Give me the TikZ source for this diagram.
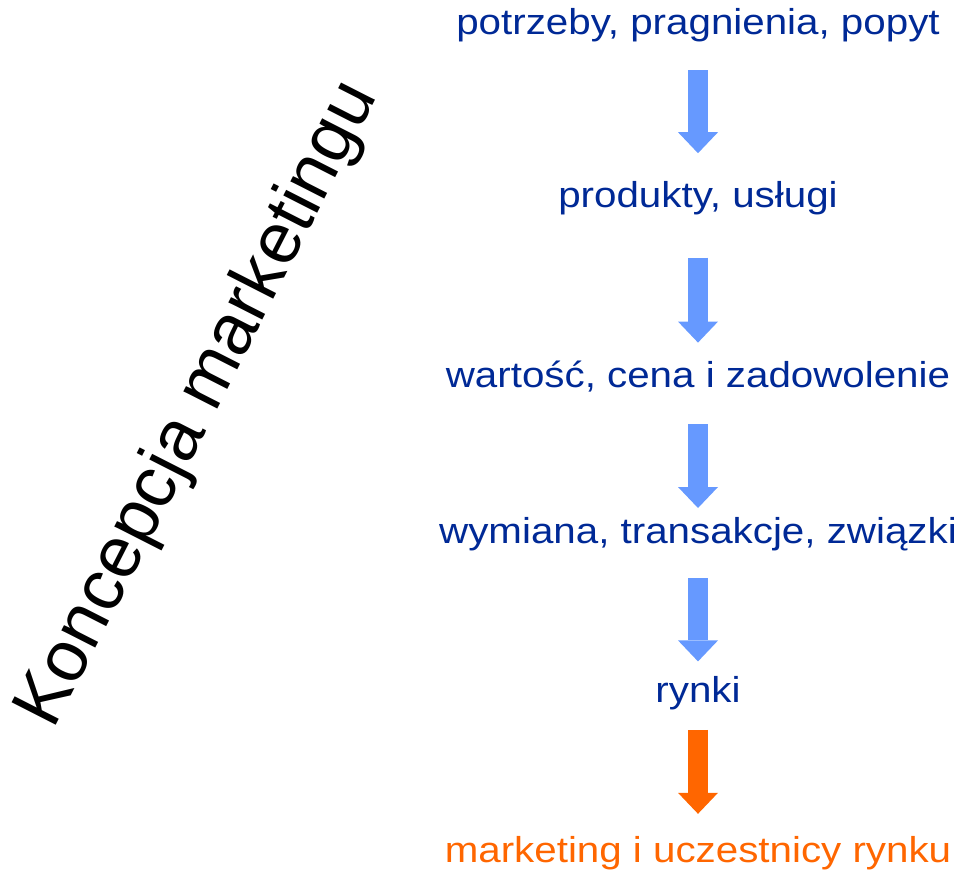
\documentclass[tikz,border=0pt]{standalone}
\usepackage{fontspec}
\setmainfont{Liberation Sans}
\newfontfamily\widesans[FakeStretch=1.12]{Liberation Sans}
\usepackage{tikz}
\usetikzlibrary{arrows.meta,positioning}
\definecolor{navyblue}{RGB}{0,41,150}
\definecolor{arrowblue}{RGB}{102,153,255}
\definecolor{mktorange}{RGB}{255,102,0}

\begin{document}
\begin{tikzpicture}[x=1pt, y=1pt, node distance=120pt]
  \tikzstyle{stage} = [font=\widesans\fontsize{36}{43}\selectfont, text=navyblue, inner sep=0pt, text height=26pt, text depth=8pt]
  \tikzstyle{flow} = [draw=arrowblue, line width=20pt, -{Triangle[width=40pt, length=21pt, line width=0pt]}]
  \tikzstyle{headline} = [font=\fontsize{72}{86}\selectfont, text=black, inner sep=0pt]
  \useasboundingbox (0,0) rectangle (960,-875);

  \node[stage, anchor=base] (needs) at (698,-35) {potrzeby, pragnienia, popyt};
  \node[stage] (products) [below=138pt of needs] {produkty, usługi};
  \node[stage] (value) [below=146pt of products] {wartość, cena i zadowolenie};
  \node[stage] (exchange) [below=121pt of value] {wymiana, transakcje, związki};
  \node[stage] (markets) [below=125pt of exchange] {rynki};
  \node[stage, text=mktorange] (marketing) [below=125pt of markets] {marketing i uczestnicy rynku};

  \draw[flow, shorten <=27pt, shorten >=28pt] (needs) -- (products);
  \draw[flow, shorten <=42pt, shorten >=19pt] (products) -- (value);
  \draw[flow, shorten <=28pt, shorten >=9pt] (value) -- (exchange);
  \draw[flow, shorten <=27pt, shorten >=15pt] (exchange) -- (markets);
  \draw[flow, draw=mktorange, shorten <=19pt, shorten >=22pt] (markets) -- (marketing);

  % side title
  \node[headline, rotate=63] (title) at (199,-405) {Koncepcja marketingu};
\end{tikzpicture}
\end{document}
